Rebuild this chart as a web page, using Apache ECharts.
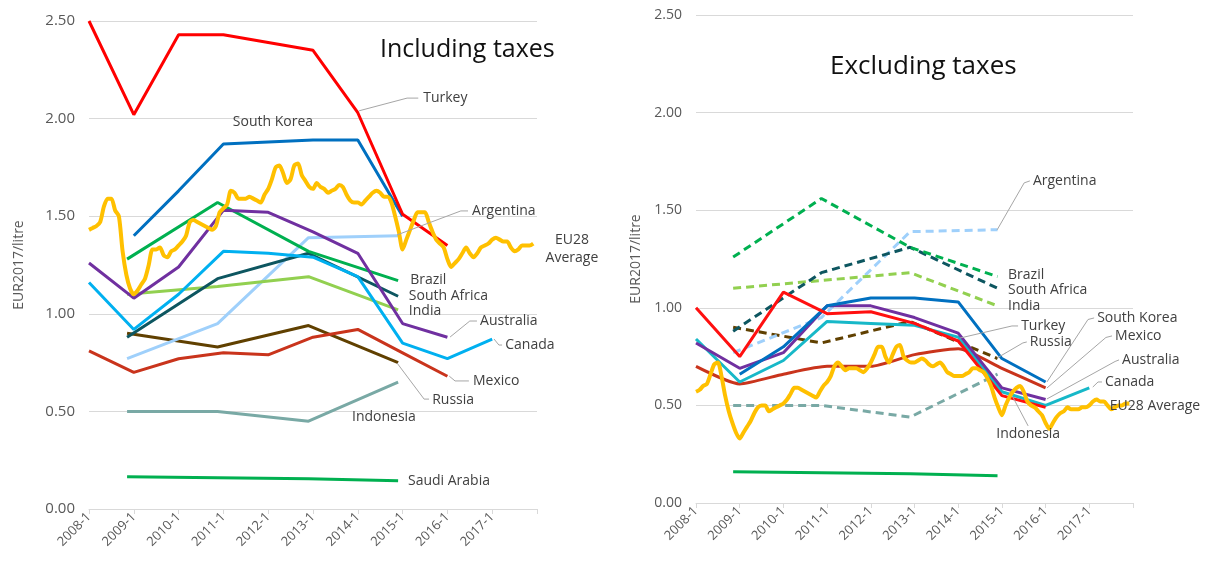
<!DOCTYPE html>
<html>
<head>
<meta charset="utf-8">
<script src="https://cdn.jsdelivr.net/npm/echarts@6/dist/echarts.min.js"></script>
<style>
  html, body { margin: 0; padding: 0; background: #fff; }
  #chart { width: 1215px; height: 562px; }
</style>
</head>
<body>
<div id="chart"></div>
<script>
// x positions (decimal years)
const yearX = [2008, 2009, 2010, 2011, 2012, 2013, 2014, 2015, 2016, 2017];
const bienX = [2008.85, 2010.87, 2012.9, 2014.9];
const yTicks = [0, 0.5, 1, 1.5, 2, 2.5];

// Including taxes, EUR2017/litre
const turkeyInc = [2.50, 2.02, 2.43, 2.43, 2.39, 2.35, 2.03, 1.51, 1.35, null];
const southKoreaInc = [null, 1.40, 1.63, 1.87, 1.88, 1.89, 1.89, 1.50, null, null];
const australiaInc = [1.26, 1.08, 1.24, 1.53, 1.52, 1.42, 1.31, 0.95, 0.88, null];
const canadaInc = [1.16, 0.92, 1.10, 1.32, 1.31, 1.29, 1.19, 0.85, 0.77, 0.87];
const mexicoInc = [0.81, 0.70, 0.77, 0.80, 0.79, 0.88, 0.92, 0.80, 0.68, null];
const brazilInc = [1.28, 1.57, 1.32, 1.17];
const southAfricaInc = [0.88, 1.18, 1.31, 1.09];
const indiaInc = [1.10, 1.14, 1.19, 1.02];
const argentinaInc = [0.77, 0.95, 1.39, 1.40];
const russiaInc = [0.90, 0.83, 0.94, 0.75];
const indonesiaInc = [0.50, 0.50, 0.45, 0.65];
const saudiInc = [0.165, 0.16, 0.155, 0.145];
// EU28 average, monthly from 2008-1
const eu28Inc = [
  1.43, 1.44, 1.45, 1.47, 1.55, 1.59, 1.59, 1.53, 1.50, 1.32, 1.20, 1.13,
  1.10, 1.12, 1.15, 1.18, 1.25, 1.33, 1.33, 1.34, 1.30, 1.29, 1.32, 1.33,
  1.35, 1.37, 1.40, 1.47, 1.48, 1.47, 1.46, 1.45, 1.44, 1.43, 1.45, 1.52,
  1.54, 1.56, 1.63, 1.62, 1.59, 1.59, 1.59, 1.60, 1.59, 1.58, 1.57, 1.61,
  1.64, 1.69, 1.75, 1.76, 1.72, 1.67, 1.69, 1.76, 1.77, 1.71, 1.68, 1.65,
  1.64, 1.67, 1.65, 1.64, 1.62, 1.63, 1.64, 1.66, 1.65, 1.61, 1.58, 1.57,
  1.57, 1.56, 1.58, 1.60, 1.62, 1.63, 1.62, 1.60, 1.60, 1.57, 1.50, 1.42,
  1.33, 1.38, 1.43, 1.48, 1.52, 1.52, 1.52, 1.47, 1.42, 1.38, 1.36, 1.34,
  1.28, 1.24, 1.26, 1.28, 1.31, 1.34, 1.31, 1.29, 1.31, 1.34, 1.35, 1.36,
  1.38, 1.39, 1.38, 1.37, 1.37, 1.34, 1.32, 1.33, 1.35, 1.35, 1.35, 1.36
];

// Excluding taxes, EUR2017/litre
const turkeyEx = [1.00, 0.75, 1.08, 0.97, 0.98, 0.92, 0.83, 0.55, 0.49, null];
const southKoreaEx = [null, 0.66, 0.80, 1.01, 1.05, 1.05, 1.03, 0.74, 0.62, null];
const australiaEx = [0.82, 0.69, 0.77, 1.01, 1.01, 0.95, 0.87, 0.59, 0.53, null];
const canadaEx = [0.84, 0.62, 0.73, 0.93, 0.92, 0.91, 0.85, 0.57, 0.50, 0.59];
const mexicoEx = [0.70, 0.61, 0.66, 0.70, 0.70, 0.76, 0.79, 0.69, 0.59, null];
const brazilEx = [1.26, 1.56, 1.31, 1.16];
const southAfricaEx = [0.88, 1.18, 1.31, 1.10];
const indiaEx = [1.10, 1.14, 1.18, 1.01];
const argentinaEx = [0.77, 0.95, 1.39, 1.40];
const russiaEx = [0.90, 0.82, 0.93, 0.74];
const indonesiaEx = [0.50, 0.50, 0.44, 0.66];
const saudiEx = [0.16, 0.155, 0.15, 0.14];
const eu28Ex = [
  0.57, 0.58, 0.60, 0.61, 0.66, 0.71, 0.72, 0.65, 0.55, 0.47, 0.41, 0.36,
  0.33, 0.36, 0.39, 0.42, 0.46, 0.49, 0.50, 0.50, 0.47, 0.48, 0.49, 0.50,
  0.51, 0.53, 0.56, 0.59, 0.59, 0.58, 0.57, 0.56, 0.55, 0.54, 0.57, 0.60,
  0.62, 0.65, 0.70, 0.72, 0.70, 0.68, 0.69, 0.69, 0.69, 0.68, 0.67, 0.69,
  0.72, 0.76, 0.80, 0.80, 0.75, 0.72, 0.76, 0.80, 0.81, 0.75, 0.73, 0.72,
  0.72, 0.73, 0.74, 0.73, 0.71, 0.70, 0.71, 0.72, 0.70, 0.67, 0.66, 0.65,
  0.65, 0.65, 0.66, 0.67, 0.69, 0.69, 0.68, 0.67, 0.64, 0.60, 0.54, 0.49,
  0.45, 0.50, 0.54, 0.57, 0.59, 0.60, 0.57, 0.52, 0.50, 0.49, 0.47, 0.45,
  0.41, 0.38, 0.41, 0.44, 0.46, 0.47, 0.49, 0.48, 0.48, 0.48, 0.49, 0.49,
  0.50, 0.52, 0.53, 0.52, 0.52, 0.50, 0.48, 0.49, 0.50, 0.50, 0.51, 0.51
];

const FONT = '"Open Sans", "DejaVu Sans", sans-serif';
const TXT = '#404040';
const LEADER = '#a6a6a6';

function pairs(xs, vals) {
  return xs.map((x, i) => [x, vals[i]]).filter(p => p[1] != null);
}
function monthly(vals) {
  return vals.map((v, m) => [2008 + m / 12, v]);
}

function line(name, idx, data, color, opts) {
  opts = opts || {};
  return {
    name: name,
    type: 'line',
    xAxisIndex: idx,
    yAxisIndex: idx,
    data: data,
    symbol: 'none',
    smooth: opts.smooth || false,
    lineStyle: {
      color: color,
      width: opts.width || 3,
      type: opts.dashed ? [8, 5] : 'solid',
      cap: 'butt'
    },
    z: opts.z || 2,
    silent: true
  };
}

const series = [
  // including taxes
  line('Indonesia', 0, pairs(bienX, indonesiaInc), '#79a9a5'),
  line('Saudi Arabia', 0, pairs(bienX, saudiInc), '#00b050'),
  line('Russia', 0, pairs(bienX, russiaInc), '#604000'),
  line('Mexico', 0, pairs(yearX, mexicoInc), '#c9341c'),
  line('Argentina', 0, pairs(bienX, argentinaInc), '#9fd0fb'),
  line('India', 0, pairs(bienX, indiaInc), '#92d050'),
  line('South Africa', 0, pairs(bienX, southAfricaInc), '#0d5660'),
  line('Canada', 0, pairs(yearX, canadaInc), '#00b0f0'),
  line('Brazil', 0, pairs(bienX, brazilInc), '#00b050'),
  line('Australia', 0, pairs(yearX, australiaInc), '#7030a0'),
  line('South Korea', 0, pairs(yearX, southKoreaInc), '#0070c0'),
  line('Turkey', 0, pairs(yearX, turkeyInc), '#ff0000'),
  line('EU28 Average', 0, monthly(eu28Inc), '#ffc000', { width: 4, smooth: 0.25, z: 3 }),
  // excluding taxes
  line('Indonesia', 1, pairs(bienX, indonesiaEx), '#79a9a5', { dashed: true }),
  line('Saudi Arabia', 1, pairs(bienX, saudiEx), '#00b050'),
  line('Russia', 1, pairs(bienX, russiaEx), '#604000', { dashed: true }),
  line('Argentina', 1, pairs(bienX, argentinaEx), '#9fd0fb', { dashed: true }),
  line('India', 1, pairs(bienX, indiaEx), '#92d050', { dashed: true }),
  line('South Africa', 1, pairs(bienX, southAfricaEx), '#0d5660', { dashed: true }),
  line('Brazil', 1, pairs(bienX, brazilEx), '#00b050', { dashed: true }),
  line('Mexico', 1, pairs(yearX, mexicoEx), '#c9341c', { smooth: 0.2 }),
  line('Canada', 1, pairs(yearX, canadaEx), '#17b8c8'),
  line('Australia', 1, pairs(yearX, australiaEx), '#7030a0'),
  line('South Korea', 1, pairs(yearX, southKoreaEx), '#0070c0'),
  line('Turkey', 1, pairs(yearX, turkeyEx), '#ff1010'),
  line('EU28 Average', 1, monthly(eu28Ex), '#ffc000', { width: 4, smooth: 0.25, z: 3 })
];

// annotation layout: [text, panel, [year, value] of text start, leader points]
const labelsLayout = [
  ['Turkey', 0, [2015.46, 2.105], [[2014.03, 2.04], [2015.1, 2.105], [2015.35, 2.105]]],
  ['South Korea', 0, [2011.21, 1.98], null],
  ['Argentina', 0, [2016.55, 1.527], [[2014.875, 1.404], [2016.3, 1.527], [2016.46, 1.527]]],
  ['EU28\nAverage', 0, [2018.78, 1.33], null, 'center'],
  ['Brazil', 0, [2015.17, 1.173], null],
  ['South Africa', 0, [2015.14, 1.091], null],
  ['India', 0, [2015.14, 1.014], null],
  ['Australia', 0, [2016.73, 0.963], [[2016.06, 0.881], [2016.5, 0.963], [2016.66, 0.963]]],
  ['Canada', 0, [2017.29, 0.84], [[2017.04, 0.871], [2017.15, 0.84], [2017.22, 0.84]]],
  ['Mexico', 0, [2016.57, 0.656], [[2016.04, 0.681], [2016.17, 0.656], [2016.48, 0.656]]],
  ['Russia', 0, [2015.66, 0.558], [[2014.875, 0.748], [2015.48, 0.563], [2015.59, 0.563]]],
  ['Indonesia', 0, [2013.87, 0.471], null],
  ['Saudi Arabia', 0, [2015.12, 0.143], null],

  ['Argentina', 1, [2015.71, 1.65], [[2014.89, 1.399], [2015.51, 1.64], [2015.64, 1.65]]],
  ['Brazil', 1, [2015.14, 1.168], null],
  ['South Africa', 1, [2015.14, 1.091], null],
  ['India', 1, [2015.14, 1.009], null],
  ['South Korea', 1, [2017.18, 0.948], [[2016.03, 0.62], [2016.97, 0.94], [2017.11, 0.948]]],
  ['Mexico', 1, [2017.59, 0.856], [[2016.03, 0.589], [2017.38, 0.848], [2017.52, 0.856]]],
  ['Turkey', 1, [2015.44, 0.907], [[2014.04, 0.845], [2015.23, 0.907], [2015.37, 0.907]]],
  ['Russia', 1, [2015.64, 0.825], [[2014.89, 0.743], [2015.48, 0.82], [2015.57, 0.825]]],
  ['Australia', 1, [2017.75, 0.733], [[2016.03, 0.533], [2017.59, 0.725], [2017.68, 0.733]]],
  ['Canada', 1, [2017.36, 0.62], [[2017.08, 0.594], [2017.2, 0.62], [2017.29, 0.62]]],
  ['EU28 Average', 1, [2017.47, 0.497], null],
  ['Indonesia', 1, [2014.87, 0.353], [[2015.25, 0.543], [2015.6, 0.395]]]
];

function xAxis(idx) {
  return {
    type: 'value',
    gridIndex: idx,
    min: 2008,
    max: 2018,
    interval: 1,
    axisLine: { show: true, lineStyle: { color: '#d9d9d9', width: 1 } },
    axisTick: { show: true, length: 5, lineStyle: { color: '#d9d9d9' } },
    splitLine: { show: false },
    axisLabel: {
      rotate: 45,
      margin: 6,
      fontFamily: FONT,
      fontSize: 13,
      color: '#595959',
      formatter: v => (v < 2018 ? v + '-1' : '')
    }
  };
}
function yAxis(idx, fontSize) {
  return {
    type: 'value',
    gridIndex: idx,
    min: yTicks[0],
    max: yTicks[yTicks.length - 1],
    interval: 0.5,
    name: 'EUR2017/litre',
    nameLocation: 'middle',
    nameGap: idx === 0 ? 63 : 53,
    nameTextStyle: { fontFamily: FONT, fontSize: 14, color: '#595959' },
    axisLine: { show: false },
    axisTick: { show: false },
    splitLine: { lineStyle: { color: '#d9d9d9', width: 1 } },
    axisLabel: {
      fontFamily: FONT,
      fontSize: fontSize,
      color: '#595959',
      margin: 14,
      formatter: v => v.toFixed(2)
    }
  };
}

const chart = echarts.init(document.getElementById('chart'), null, { renderer: 'canvas' });

chart.setOption({
  backgroundColor: '#ffffff',
  animation: false,
  title: [
    { text: 'Including taxes', left: 375, top: 32,
      textStyle: { fontFamily: FONT, fontSize: 25, fontWeight: 'normal', color: '#111' } },
    { text: 'Excluding taxes', left: 825, top: 49,
      textStyle: { fontFamily: FONT, fontSize: 26, fontWeight: 'normal', color: '#111' } }
  ],
  grid: [
    { left: 89, top: 21, width: 448, height: 488 },
    { left: 696, top: 15, width: 437, height: 488 }
  ],
  xAxis: [xAxis(0), xAxis(1)],
  yAxis: [yAxis(0, 15), yAxis(1, 14)],
  series: series
});

// place annotations through the axes' scales
const elements = [];
labelsLayout.forEach(([text, panel, at, leader, align]) => {
  const p = chart.convertToPixel({ gridIndex: panel }, at);
  if (leader) {
    elements.push({
      type: 'polyline',
      silent: true,
      z: 10,
      shape: { points: leader.map(pt => chart.convertToPixel({ gridIndex: panel }, pt)) },
      style: { stroke: LEADER, lineWidth: 1, fill: null }
    });
  }
  elements.push({
    type: 'text',
    silent: true,
    z: 11,
    x: p[0],
    y: p[1],
    style: {
      text: text,
      fontFamily: FONT,
      fontSize: 14,
      lineHeight: 18,
      fill: TXT,
      align: align || 'left',
      verticalAlign: 'middle'
    }
  });
});
chart.setOption({ graphic: elements });
</script>
</body>
</html>
